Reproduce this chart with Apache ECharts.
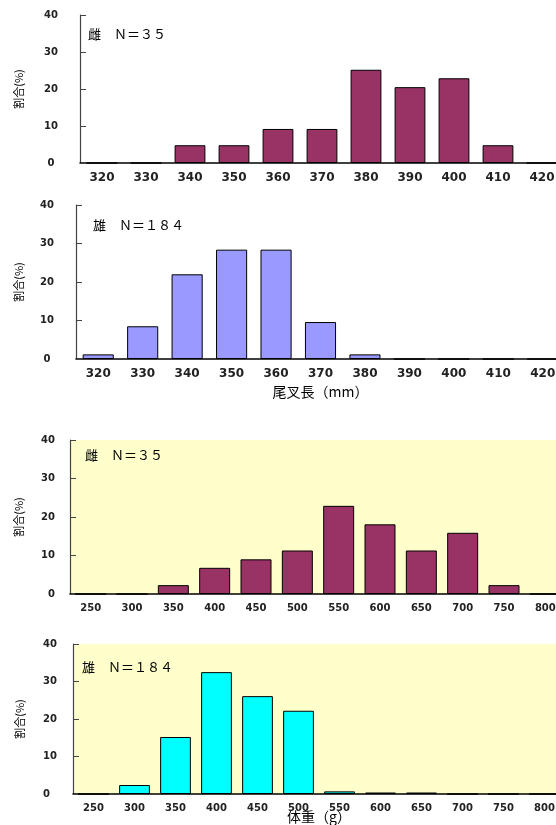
<!DOCTYPE html>
<html><head><meta charset="utf-8">
<script src="https://cdn.jsdelivr.net/npm/echarts@6/dist/echarts.min.js"></script>
<style>html,body{margin:0;padding:0;background:#fff}#c{width:556px;height:825px}</style>
</head><body><div id="c"></div>
<script>
const tlCats = ['320','330','340','350','360','370','380','390','400','410','420'];
const tlFemale = [0,0,4.8,4.8,9.2,9.2,25.2,20.5,22.9,4.8,0];
const tlMale = [1.2,8.5,22.0,28.4,28.4,9.6,1.2,0,0,0,0];
const wtCats = ['250','300','350','400','450','500','550','600','650','700','750','800'];
const wtFemale = [0,0,2.3,6.8,9.0,11.3,22.9,18.1,11.3,15.9,2.3,0];
const wtMale = [0,2.4,15.2,32.5,26.1,22.2,0.7,0.4,0.4,0,0,0];
const yTicks = [0,10,20,30,40];
const titles = ['雌　Ｎ＝３５','雄　Ｎ＝１８４','雌　Ｎ＝３５','雄　Ｎ＝１８４'];
const yName = '割合(%)';
const xNames = ['', '尾叉長（mm）', '', '体重（g）'];

const FONT = 'DejaVu Sans';
const CJK = 'Noto Sans CJK JP';
const grids = [
  {left:80, top:15, height:148, width:484},
  {left:76, top:205, height:154, width:489},
  {left:70, top:440, height:154, width:496, backgroundColor:'#FFFFCC', show:true, borderWidth:0},
  {left:73, top:644, height:150, width:492, backgroundColor:'#FFFFCC', show:true, borderWidth:0}
].map(g=>Object.assign(g,{containLabel:false, outerBoundsMode:'none'}));
const cats = [tlCats, tlCats, wtCats, wtCats];
const vals = [tlFemale, tlMale, wtFemale, wtMale];
const colors = ['#993366','#9999FF','#993366','#00FFFF'];
const gaps = ['30%','30%','25%','25%'];
const xFont = [12,12,10,10];
const yLab = [
  {align:'center', margin:29},
  {align:'center', margin:29},
  {align:'right', margin:15},
  {align:'left', margin:30}
];
const yNameGap = [56,52,46,48];
const xNameGap = [22,26,22,16];

const option = {
  animation:false,
  grid: grids,
  title: [
    {text:titles[0], left:88, top:28},
    {text:titles[1], left:93, top:219},
    {text:titles[2], left:85, top:449},
    {text:titles[3], left:82, top:661}
  ].map(t=>Object.assign(t,{padding:0,textStyle:{fontFamily:CJK,fontSize:13,fontWeight:'normal',color:'#000'}})),
  xAxis: cats.map((c,i)=>({
    type:'category', gridIndex:i, data:c, boundaryGap:true,
    axisLine:{lineStyle:{color:'#000',width:1.5}},
    axisTick:{inside:true,length:4,lineStyle:{color:'#333'}},
    axisLabel:{fontFamily:FONT,fontWeight:'bold',fontSize:xFont[i],color:'#222',margin:9,interval:0},
    name:xNames[i], nameLocation:'middle', nameGap:xNameGap[i], nameMoveOverlap:false,
    nameTextStyle:{fontFamily:CJK,fontSize:14,color:'#000'}
  })),
  yAxis: cats.map((c,i)=>({
    type:'value', gridIndex:i, min:0, max:40, interval:10,
    axisLine:{show:true,lineStyle:{color:'#444',width:1.2}},
    axisTick:{show:true,inside:true,length:6,lineStyle:{color:'#444'}},
    splitLine:{show:false},
    axisLabel:{fontFamily:FONT,fontWeight:'bold',fontSize:10,color:'#222',align:yLab[i].align,margin:yLab[i].margin,
      formatter:v=>yTicks.includes(v)?String(v):''},
    name:yName, nameLocation:'middle', nameGap:yNameGap[i], nameRotate:90, nameMoveOverlap:false,
    nameTextStyle:{fontFamily:CJK,fontSize:11,color:'#000'}
  })),
  series: vals.map((v,i)=>({
    type:'bar', xAxisIndex:i, yAxisIndex:i, data:v, barCategoryGap:gaps[i],
    itemStyle:{color:colors[i],borderColor:'#000',borderWidth:1}
  }))
};
echarts.init(document.getElementById('c'),null,{renderer:'canvas'}).setOption(option);
</script></body></html>
